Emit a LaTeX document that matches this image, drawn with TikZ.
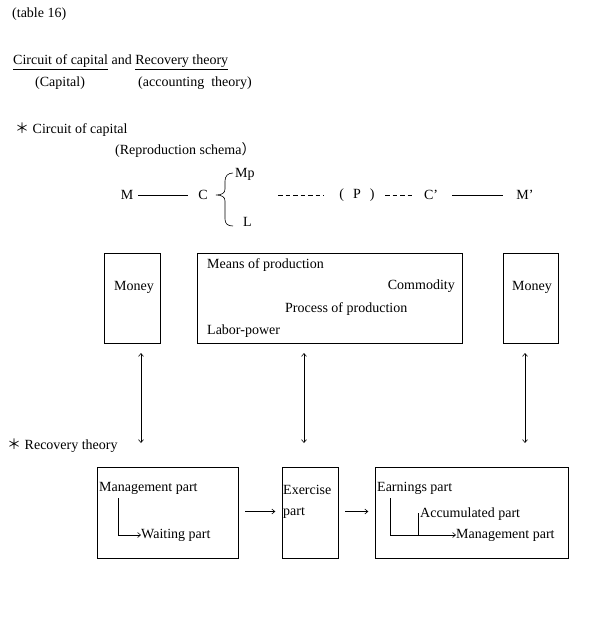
\documentclass[tikz,border=0pt]{standalone}
\usepackage{fontspec}
\setmainfont{Liberation Serif}
\newfontfamily\cjk{Noto Sans CJK JP}
\usetikzlibrary{arrows.meta}
\tikzset{
  txt/.style={inner sep=0pt, anchor=west},
  ctxt/.style={inner sep=0pt},
  etxt/.style={inner sep=0pt, anchor=east},
  boxnode/.style={draw, line width=0.6pt, inner sep=0pt},
  conn/.style={line width=0.6pt},
  arr/.style={line width=0.6pt, -{Straight Barb[length=3pt,width=5pt]}},
  darr/.style={line width=0.6pt, {Straight Barb[length=3pt,width=5pt]}-{Straight Barb[length=3pt,width=5pt]}},
  dashln/.style={line width=0.6pt, dash pattern=on 4.5pt off 3pt}
}
\begin{document}
\begin{tikzpicture}[x=1pt,y=-1pt,font=\fontsize{14}{16}\selectfont]
\useasboundingbox (0,0) rectangle (605,624);

% header texts
\node[txt] (t16) at (12,14) {(table 16)};
\node[txt] (title) at (13,62) {\underline{Circuit of capital} and \underline{Recovery theory}};
\node[txt] (capl) at (35,83) {(Capital)};
\node[txt] (acct) at (138,83) {(accounting\ \ theory)};
\node[txt] (circ) at (15,130) {{\cjk ＊} Circuit of capital};
\node[txt] (repro) at (115,150) {(Reproduction schema{\cjk ）}};

% formula row
\node[ctxt] (M) at (127,195) {M};
\node[ctxt] (C) at (203,195) {C};
\node[txt] (Mp) at (235,174) {Mp};
\node[txt] (L) at (243,222) {L};
\node[ctxt] (P) at (357,195) {(\hspace{9pt}P\hspace{9pt})};
\node[ctxt] (Cp) at (431,195) {C’};
\node[ctxt] (Mpr) at (525,195) {M’};
\coordinate (d1a) at (278,195);
\coordinate (d1b) at (324,195);
\coordinate (d2a) at (385,195);
\coordinate (d2b) at (414,195);
\draw[conn] (M.east) ++(5,0) coordinate (ml) -- (188,195) coordinate (mr);
\draw[conn] (452,195) coordinate (cl) -- (503,195) coordinate (cr);
\draw[dashln] (d1a) -- (d1b);
\draw[dashln] (d2a) -- (d2b);
% brace
\draw[conn] (233,173) .. controls (228,173) and (225,176) .. (225,181)
  -- (225,189) .. controls (225,193) and (222,195) .. (216,195)
  .. controls (222,195) and (225,197) .. (225,201)
  -- (225,219) .. controls (225,224) and (228,226) .. (233,226);

% upper boxes
\node[boxnode, minimum width=56pt, minimum height=90pt] (bm1) at (132,298) {};
\node[boxnode, minimum width=265pt, minimum height=90pt] (bmid) at (329.5,298) {};
\node[boxnode, minimum width=55pt, minimum height=90pt] (bm2) at (530.5,298) {};
\node[ctxt] (money1) at (134,287) {Money};
\node[ctxt] (money2) at (532,287) {Money};
\node[txt] (means) at (207,265) {Means of production};
\node[etxt] (comm) at (455,286) {Commodity};
\node[txt] (proc) at (285,309) {Process of production};
\node[txt] (labor) at (207,331) {Labor-power};

% vertical arrows
\coordinate (v1t) at (141,353); \coordinate (v1b) at (141,443);
\coordinate (v2t) at (304,353); \coordinate (v2b) at (304,443);
\coordinate (v3t) at (525,353); \coordinate (v3b) at (525,443);
\draw[darr] (v1t) -- (v1b);
\draw[darr] (v2t) -- (v2b);
\draw[darr] (v3t) -- (v3b);

\node[txt] (rec) at (7,446) {{\cjk ＊} Recovery theory};

% lower boxes
\node[boxnode, minimum width=141pt, minimum height=91pt] (bl) at (167.5,512.5) {};
\node[boxnode, minimum width=56pt, minimum height=91pt] (bx) at (310,512.5) {};
\node[boxnode, minimum width=193pt, minimum height=91pt] (br) at (471.5,512.5) {};

\node[txt] (mgmt1) at (99,488) {Management part};
\node[txt] (wait) at (141,535) {Waiting part};
\draw[arr] (118,498) coordinate (e1) |- (wait.west);

\node[txt] (exer) at (283,490) {Exercise};
\node[txt] (expart) at (283,513) {part};

\node[txt] (earn) at (377,488) {Earnings part};
\node[txt] (accum) at (420,514) {Accumulated part};
\node[txt] (mgmt2) at (456,535) {Management part};
\draw[arr] (390,498) coordinate (e2) |- (mgmt2.west);
\draw[conn] (418,513) coordinate (e3) -- (418,535) coordinate (e4);

\draw[arr] (bl.east) ++(7,-1) coordinate (h1a) -- ++(30,0) coordinate (h1b);
\draw[arr] (bx.east) ++(7,-1) coordinate (h2a) -- ++(23,0) coordinate (h2b);
\end{tikzpicture}
\end{document}
